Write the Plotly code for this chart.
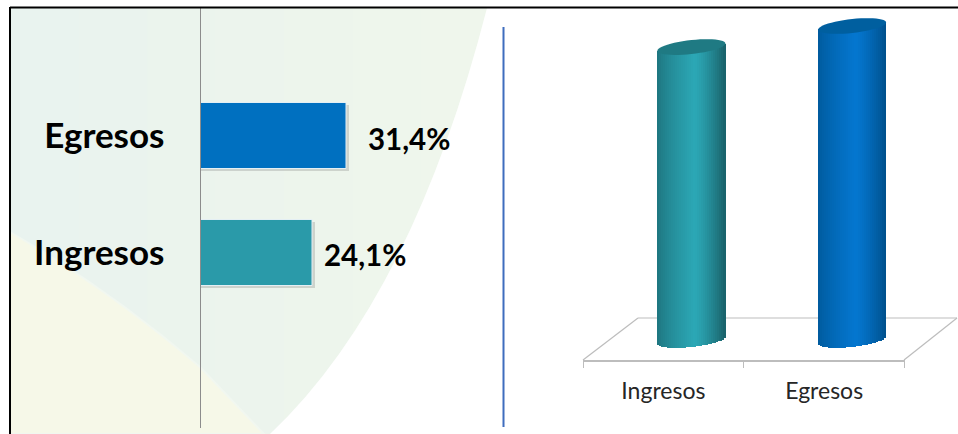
import math
import plotly.graph_objects as go

# ---- data ----
bar_categories = ["Ingresos", "Egresos"]
bar_values = [24.1, 31.4]
bar_labels = ["24,1%", "31,4%"]
bar_colors = ["#2A9AA9", "#0070C0"]
label_shift = [9, 19]

cyl_categories = ["Ingresos", "Egresos"]
cyl_values = [93.3, 100.0]          # relative heights, no scale printed
cyl_edge_l = [(0x1E, 0x74, 0x7E), (0x00, 0x5A, 0x9C)]
cyl_mid = [(0x2C, 0xA8, 0xB6), (0x05, 0x77, 0xD0)]
cyl_edge_r = [(0x1A, 0x62, 0x6A), (0x00, 0x50, 0x8C)]
cap_colors = ["#1F7A83", "#005F9F"]
wash_colors = ["#E9F3EF", "#EAF3EE", "#EBF4ED", "#ECF4ED", "#EDF5EC", "#EEF6EC", "#EFF6EC"]

W, H = 958, 434
FONT = "Lato"


def px(x, y):
    return x / W, 1 - y / H


def P(x, y):
    a, b = px(x, y)
    return f"{a:.5f},{b:.5f}"


shapes = []
# background wash, trimmed on the right by a white area following the arc
step = (490 - 10) / len(wash_colors)
for i, c in enumerate(wash_colors):
    x0, x1 = 10 + i * step, 10 + (i + 1) * step + 1
    shapes.append(dict(type="path", xref="paper", yref="paper", layer="below", line_width=0,
                       fillcolor=c,
                       path=f"M{P(x0,8)} L{P(x1,8)} L{P(x1,434)} L{P(x0,434)} Z"))
shapes.append(dict(type="path", xref="paper", yref="paper", layer="below", line_width=0,
                   fillcolor="#FFFFFF",
                   path=f"M{P(487,8)} Q{P(412,300)} {P(270,434)} L{P(495,434)} L{P(495,8)} Z"))
shapes.append(dict(type="path", xref="paper", yref="paper", layer="below",
                   line=dict(color="#F1F7F0", width=2),
                   fillcolor="#F6F8E8",
                   path=f"M{P(10,232)} Q{P(110,290)} {P(200,367)} L{P(264,434)} L{P(10,434)} Z"))
# frame
shapes.append(dict(type="line", xref="paper", yref="paper", layer="above",
                   x0=px(10, 7.5)[0], y0=px(10, 7.5)[1], x1=1, y1=px(10, 7.5)[1],
                   line=dict(color="#000000", width=2)))
shapes.append(dict(type="line", xref="paper", yref="paper", layer="above",
                   x0=px(10, 7)[0], y0=px(10, 7)[1], x1=px(10, 434)[0], y1=0,
                   line=dict(color="#000000", width=2)))
# divider
shapes.append(dict(type="line", xref="paper", yref="paper",
                   x0=px(503.5, 27)[0], y0=px(503.5, 27)[1], x1=px(503.5, 427)[0], y1=px(503.5, 427)[1],
                   line=dict(color="#3F6DBE", width=2)))
# 3D floor
for a, b in [((583, 360), (638, 318)), ((638, 318), (957, 318)), ((904, 360), (957, 318))]:
    shapes.append(dict(type="line", xref="paper", yref="paper", layer="below",
                       x0=px(*a)[0], y0=px(*a)[1], x1=px(*b)[0], y1=px(*b)[1],
                       line=dict(color="#BDBDBD", width=1.2)))

fig = go.Figure()

# ---- left panel: horizontal bars ----
LX0, LX1 = 200.5, 433.0
LY0, LY1 = 8, 428
x_scale = (LX1 - LX0) / 50.0
fig.add_trace(go.Bar(y=bar_categories, x=[v + 1.5 / x_scale for v in bar_values],
                     orientation="h", width=0.566, offset=-0.30,
                     marker=dict(color="rgba(90,90,90,0.22)", line_width=0),
                     xaxis="x", yaxis="y", showlegend=False, hoverinfo="skip"))
fig.add_trace(go.Bar(y=bar_categories, x=bar_values, orientation="h", width=0.566,
                     marker=dict(color=bar_colors, line=dict(color="#E4EFF4", width=1)),
                     xaxis="x", yaxis="y", showlegend=False))

annotations = []
for cat, v, t, s in zip(bar_categories, bar_values, bar_labels, label_shift):
    annotations.append(dict(x=v, y=cat, xref="x", yref="y", text=f"<b>{t}</b>", showarrow=False,
                            xanchor="left", xshift=s, yshift=-2,
                            font=dict(family=FONT, size=29.5, color="#000000")))

# ---- right panel: cylinders drawn as shaded strips ----
RX0, RX1 = 583.0, 904.5
RY0, RY1 = 8.0, 360.0
unit_px = (RX1 - RX0) / 2
CY_PX = 3.14            # px per y unit
base_y = -(RY1 - 340) / CY_PX
top_y = (340 - RY0) / CY_PX
shift = 28 / unit_px    # 3D shift of cylinders with respect to the ticks
a_px = 34.0
b_px = 7.0
tilt_px = 3.6
N = 34


def lerp(c1, c2, t):
    return tuple(c1[i] + (c2[i] - c1[i]) * t for i in range(3))


def shade(i, t):
    peak = 0.55
    if t < peak:
        u = t / peak
        c = lerp(cyl_edge_l[i], cyl_mid[i], u ** 0.75)
    else:
        u = (t - peak) / (1 - peak)
        c = lerp(cyl_mid[i], cyl_edge_r[i], u ** 1.3)
    return "rgb(%d,%d,%d)" % c


cyl_x = [0, 1]
for k in range(N):
    t = (k + 0.5) / N
    dx = (t * 2 - 1) * a_px
    strip = 2 * a_px / N
    tilt = tilt_px * (dx / a_px)
    low = tilt - b_px * math.sqrt(max(0, 1 - (dx / a_px) ** 2))
    bases = [low / CY_PX for _ in cyl_values]
    tops = [v + tilt / CY_PX - b for v, b in zip(cyl_values, bases)]
    fig.add_trace(go.Bar(x=cyl_x, y=tops, base=bases,
                         width=(strip + 0.6) / unit_px,
                         offset=shift + (dx - strip / 2 - 0.3) / unit_px,
                         marker=dict(color=[shade(0, t), shade(1, t)], line_width=0),
                         xaxis="x2", yaxis="y2", showlegend=False, hoverinfo="skip"))

for i, v in enumerate(cyl_values):
    pts = []
    for j in range(49):
        th = 2 * math.pi * j / 48
        ex = a_px * math.cos(th)
        ey = tilt_px * math.cos(th) + b_px * math.sin(th)
        pts.append((i + shift + ex / unit_px, v + ey / CY_PX))
    d = "M" + " L".join(f"{x:.5f},{y:.4f}" for x, y in pts) + " Z"
    shapes.append(dict(type="path", xref="x2", yref="y2", layer="above", path=d,
                       fillcolor=cap_colors[i], line_width=0))

fig.update_layout(
    width=W, height=H, autosize=False,
    margin=dict(l=0, r=0, t=0, b=0),
    paper_bgcolor="#FFFFFF", plot_bgcolor="rgba(0,0,0,0)",
    barmode="overlay", bargap=0,
    shapes=shapes, annotations=annotations,
    xaxis=dict(domain=[LX0 / W, LX1 / W], range=[0, 50], visible=False, fixedrange=True),
    yaxis=dict(domain=[1 - LY1 / H, 1 - LY0 / H], type="category", categoryorder="array",
               categoryarray=bar_categories, range=[-1.506, 2.099], anchor="x",
               showgrid=False, zeroline=False, showline=True, linecolor="#8C8C8C", linewidth=1,
               ticks="", ticklabelstandoff=28, tickfont=dict(family=FONT, size=35, color="#000000"),
               tickvals=bar_categories, ticktext=[f"<b>{c}</b>" for c in bar_categories]),
    xaxis2=dict(domain=[RX0 / W, RX1 / W], range=[-0.5, 1.5], anchor="y2",
                tickmode="array", tickvals=cyl_x, ticktext=cyl_categories, ticklen=0,
                ticklabelstandoff=10,
                tickfont=dict(family=FONT, size=23, color="#262626"),
                showgrid=False, zeroline=False, showline=True, linecolor="#BDBDBD", linewidth=1.5,
                minor=dict(tickmode="array", tickvals=[-0.5, 0.5, 1.5], ticks="outside",
                           ticklen=6, tickcolor="#BDBDBD", tickwidth=1, showgrid=False)),
    yaxis2=dict(domain=[1 - RY1 / H, 1 - RY0 / H], range=[base_y, top_y], anchor="x2",
                visible=False),
)

fig.write_html("out.html", post_script="document.body.style.margin='0';",
               config={"displayModeBar": False})
